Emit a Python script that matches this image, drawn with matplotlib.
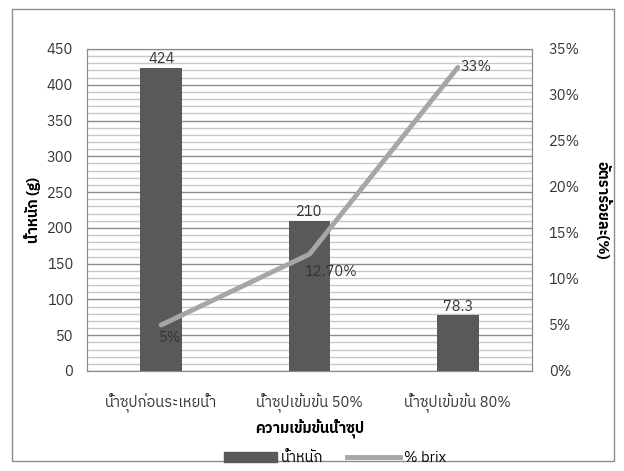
import numpy as np
import matplotlib
matplotlib.use("Agg")
import matplotlib.pyplot as plt
from matplotlib import font_manager, ft2font
from matplotlib.ticker import MultipleLocator, PercentFormatter
from matplotlib.lines import Line2D
from matplotlib.patches import Patch, Rectangle

# Data
categories = ["น้ำซุปก่อนระเหยน้ำ", "น้ำซุปเข้มข้น 50%", "น้ำซุปเข้มข้น 80%"]
weight = [424, 210, 78.3]
weight_labels = ["424", "210", "78.3"]
brix = [5, 12.7, 33]
brix_labels = ["5%", "12.70%", "33%"]

# Find a font with Thai glyphs
thai_font = None
for fe in font_manager.fontManager.ttflist:
    try:
        f = ft2font.FT2Font(fe.fname)
        if f.get_char_index(ord("น")) != 0 and f.get_char_index(ord("ำ")) != 0:
            thai_font = fe.name
            if "Sans" in fe.name or "Noto" in fe.name:
                break
    except Exception:
        pass
families = [thai_font, "DejaVu Sans"] if thai_font else ["DejaVu Sans"]
plt.rcParams["font.family"] = families

txt = "#333333"
fig = plt.figure(figsize=(6.24, 4.71), dpi=100)
ax = fig.add_axes([87 / 624, 100 / 471, 445 / 624, 322 / 471])
ax2 = ax.twinx()

x = np.arange(len(categories))
ax.bar(x, weight, width=0.28, color="#595959", zorder=3)
ax.set_xlim(-0.5, 2.5)
ax.set_ylim(0, 450)
ax.yaxis.set_major_locator(MultipleLocator(50))
ax.yaxis.set_minor_locator(MultipleLocator(10))
ax.grid(which="major", axis="y", color="#8c8c8c", linewidth=1.0, zorder=0)
ax.grid(which="minor", axis="y", color="#c8c8c8", linewidth=1.0, zorder=0)
ax.set_xticks(x)
ax.set_xticklabels(categories, fontsize=10.5)
ax.tick_params(axis="y", length=0, labelsize=10.5, colors=txt, pad=10)
ax.tick_params(axis="x", length=0, labelsize=10.5, colors=txt, pad=16)
ax.tick_params(axis="y", which="minor", length=0)
for i, v in enumerate(weight):
    ax.text(x[i], v + 2, weight_labels[i], ha="center", va="bottom", fontsize=10.5, color=txt, zorder=5)
ax.set_ylabel("น้ำหนัก (g)", fontsize=10.5, fontweight="bold", labelpad=4)
ax.set_xlabel("ความเข้มข้นน้ำซุป", fontsize=10.5, fontweight="bold", labelpad=4)

ax2.plot(x, brix, color="#a6a6a6", linewidth=3.5, solid_capstyle="round", zorder=4)
ax2.set_ylim(0, 35)
ax2.yaxis.set_major_locator(MultipleLocator(5))
ax2.yaxis.set_major_formatter(PercentFormatter(decimals=0))
ax2.tick_params(axis="y", length=0, labelsize=10.5, colors=txt, pad=12)
ax2.set_ylabel("อัตราร้อยละ(%)", fontsize=10.5, fontweight="bold", rotation=270, labelpad=22)
offsets = [(-2, -4, "top"), (-4, -8, "top"), (2, 0, "center")]
for i, v in enumerate(brix):
    dx, dy, va = offsets[i]
    ax2.annotate(brix_labels[i], (x[i], v), xytext=(dx, dy), textcoords="offset points",
                 ha="left", va=va, fontsize=10.5, color=txt)

for a in (ax, ax2):
    for s in a.spines.values():
        s.set_color("#8c8c8c")
ax.set_zorder(ax2.get_zorder() - 1)
ax.patch.set_visible(True)
ax2.patch.set_visible(False)

handles = [Patch(color="#595959"), Line2D([0], [0], color="#a6a6a6", linewidth=3.5)]
fig.legend(handles, ["น้ำหนัก", "% brix"], loc="lower center", bbox_to_anchor=(0.537, -0.016),
           ncol=2, frameon=False, fontsize=10.5, handlelength=3.6, handletextpad=0.3,
           columnspacing=1.6)

fig.patches.append(Rectangle((12 / 624, 10 / 471), 602 / 624, 452 / 471, transform=fig.transFigure,
                             fill=False, edgecolor="#8c8c8c", linewidth=1))

fig.savefig("out.png", dpi=100)
